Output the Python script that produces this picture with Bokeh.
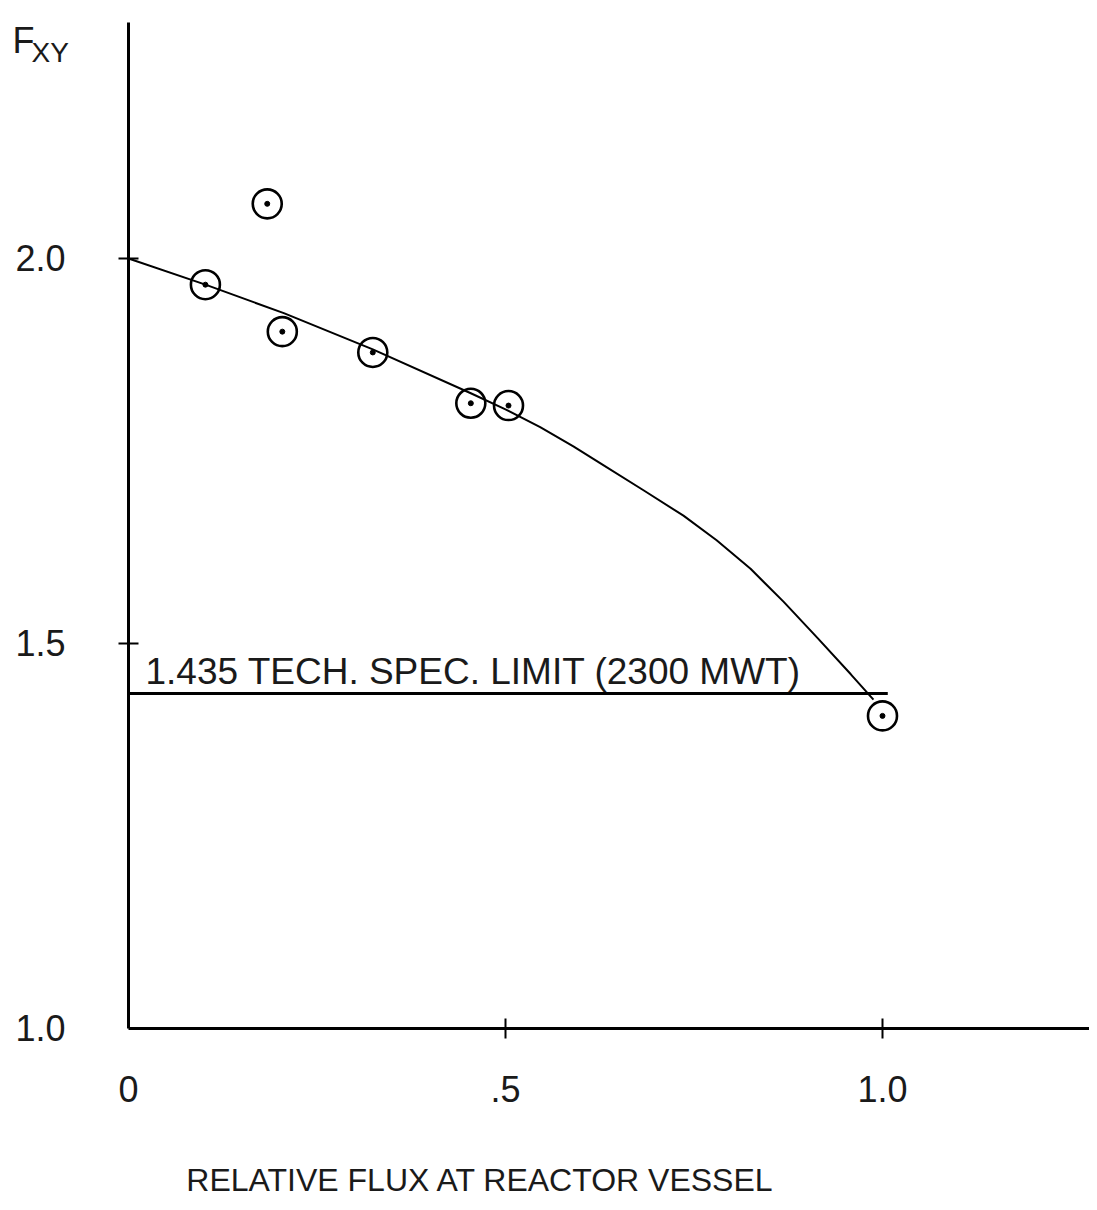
from bokeh.plotting import figure
from bokeh.models import Range1d, FixedTicker, Label, LinearAxis
from bokeh.embed import file_html
from bokeh.resources import INLINE

# ---- data ----
point_x = [0.102, 0.184, 0.204, 0.324, 0.454, 0.504, 1.000]
point_y = [1.966, 2.071, 1.905, 1.878, 1.812, 1.809, 1.406]

curve_x = [0.000, 0.102, 0.206, 0.324, 0.454, 0.500, 0.546, 0.590, 0.626,
           0.683, 0.736, 0.780, 0.825, 0.869, 0.914, 0.958, 0.988]
curve_y = [2.000, 1.966, 1.929, 1.882, 1.825, 1.804, 1.781, 1.756, 1.734,
           1.699, 1.666, 1.634, 1.597, 1.554, 1.507, 1.460, 1.427]

limit_x = [0.0, 1.007]
limit_y = [1.435, 1.435]

x_ticks = [0.0, 0.5, 1.0]
x_tick_labels = ["0", ".5", "1.0"]
y_ticks = [1.0, 1.5, 2.0]
y_tick_labels = ["1.0", "1.5", "2.0"]

x_axis_extent = (0.0, 1.2745)
y_axis_extent = (1.0, 2.306)

limit_label = "1.435 TECH. SPEC. LIMIT (2300 MWT)"
x_title = "RELATIVE FLUX AT REACTOR VESSEL"
y_title_main = "F"
y_title_sub = "XY"

FONT = "Liberation Sans"
INK = "#1a1a1a"

p = figure(width=1089, height=1200, output_backend="svg", toolbar_location=None,
           x_range=Range1d(-0.16976, 1.27454), y_range=Range1d(0.77662, 2.33506),
           min_border=0)
p.title.visible = False
p.outline_line_color = None
p.grid.visible = False
p.background_fill_color = "white"
p.border_fill_color = "white"

# axis lines with tick marks (drawn at x = 0 and y = 1.0)
xa = p.xaxis[0]
ya = p.yaxis[0]
xa.fixed_location = y_ticks[0]
ya.fixed_location = x_ticks[0]
xa.bounds = x_axis_extent
ya.bounds = y_axis_extent
xa.ticker = FixedTicker(ticks=x_ticks[1:])
ya.ticker = FixedTicker(ticks=y_ticks[1:])
for ax in (xa, ya):
    ax.axis_line_width = 3
    ax.axis_line_color = "black"
    ax.major_tick_line_width = 2
    ax.major_tick_line_color = "black"
    ax.major_tick_in = 10
    ax.major_tick_out = 10
    ax.minor_tick_line_color = None
    ax.major_label_text_font_size = "0px"
    ax.major_label_text_color = None

# tick labels (separate axes so the corner has no tick stubs)
xl = LinearAxis(fixed_location=y_ticks[0], bounds=x_axis_extent,
                ticker=FixedTicker(ticks=x_ticks),
                major_label_overrides={t: s for t, s in zip(x_ticks, x_tick_labels)},
                major_label_standoff=48)
yl = LinearAxis(fixed_location=x_ticks[0], bounds=y_axis_extent,
                ticker=FixedTicker(ticks=y_ticks),
                major_label_overrides={t: s for t, s in zip(y_ticks, y_tick_labels)},
                major_label_standoff=63)
for ax in (xl, yl):
    ax.axis_line_color = None
    ax.major_tick_line_color = None
    ax.minor_tick_line_color = None
    ax.major_tick_in = 0
    ax.major_tick_out = 0
    ax.major_label_text_font = FONT
    ax.major_label_text_font_size = "36px"
    ax.major_label_text_color = INK
p.add_layout(xl, "below")
p.add_layout(yl, "left")

# fitted curve and limit line
p.line(curve_x, curve_y, line_color="black", line_width=2)
p.line(limit_x, limit_y, line_color="black", line_width=3)

# data points: open circles with centre dots
p.scatter(point_x, point_y, marker="circle", size=29, fill_color=None,
          line_color="black", line_width=2.6)
p.scatter(point_x, point_y, marker="circle", size=5, fill_color="black",
          line_color="black")

p.add_layout(Label(x=0.0225, y=limit_y[0], y_offset=2, text=limit_label,
                   text_font=FONT, text_font_size="37px", text_color=INK,
                   text_baseline="bottom", text_align="left"))
p.add_layout(Label(x=0.467, y=0.8026, text=x_title, text_font=FONT,
                   text_font_size="32px", text_color=INK,
                   text_baseline="alphabetic", text_align="center"))
p.add_layout(Label(x=-0.1538, y=2.2831, text=y_title_main, text_font=FONT,
                   text_font_size="36px", text_color=INK,
                   text_baseline="alphabetic", text_align="left"))
p.add_layout(Label(x=-0.1286, y=2.2675, text=y_title_sub, text_font=FONT,
                   text_font_size="28px", text_color=INK,
                   text_baseline="alphabetic", text_align="left"))

open("out.html", "w").write(file_html(p, INLINE))
